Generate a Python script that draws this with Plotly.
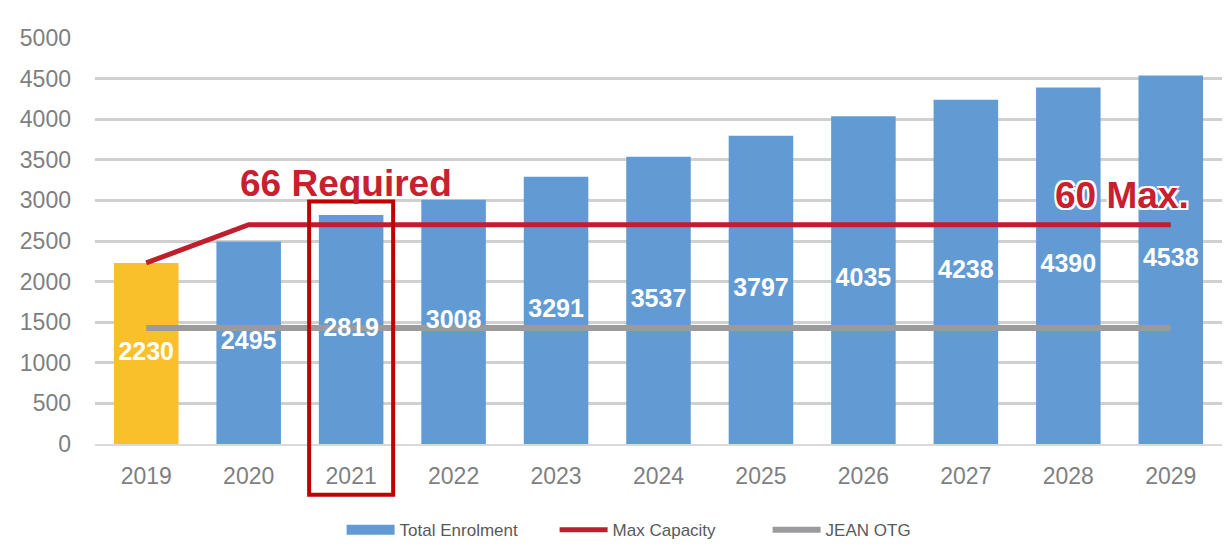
import plotly.graph_objects as go

years = ["2019", "2020", "2021", "2022", "2023", "2024", "2025", "2026", "2027", "2028", "2029"]
enrolment = [2230, 2495, 2819, 3008, 3291, 3537, 3797, 4035, 4238, 4390, 4538]
max_capacity = [2230, 2700, 2700, 2700, 2700, 2700, 2700, 2700, 2700, 2700, 2700]
jean_otg = [1430] * 11
y_ticks = [0, 500, 1000, 1500, 2000, 2500, 3000, 3500, 4000, 4500, 5000]
highlight_year = "2021"
highlight_top = 2985

BLUE = "#629BD3"
YELLOW = "#F9C02C"
RED = "#BE1E2D"
GREY = "#9B9B9D"
FONT = "Liberation Sans, Arial, sans-serif"

fig = go.Figure()
fig.add_trace(go.Bar(x=years[:1], y=enrolment[:1], marker=dict(color=YELLOW, line_width=0),
                     showlegend=False, hoverinfo="skip"))
fig.add_trace(go.Bar(x=years[1:], y=enrolment[1:], name="Total Enrolment",
                     marker=dict(color=BLUE, line_width=0), showlegend=False))
# legend-only swatch for the bars (wide rectangle like the reference)
fig.add_trace(go.Scatter(x=[years[0]], y=[None], mode="lines", name="Total Enrolment",
                         line=dict(color=BLUE, width=11), hoverinfo="skip"))
fig.add_trace(go.Scatter(x=years, y=max_capacity, mode="lines", name="Max Capacity",
                         line=dict(color=RED, width=5)))
fig.add_trace(go.Scatter(x=years, y=jean_otg, mode="lines", name="JEAN OTG",
                         line=dict(color=GREY, width=6)))
fig.add_trace(go.Scatter(x=years, y=[v / 2 for v in enrolment], mode="text",
                         text=[str(v) for v in enrolment], showlegend=False,
                         textfont=dict(family=FONT, size=25, color="white", weight="bold"),
                         hoverinfo="skip"))

n = len(years)
idx = years.index(highlight_year)
half = 0.41
fig.add_shape(type="rect", xref="x domain", yref="paper",
              x0=(idx + 0.5 - half) / n, x1=(idx + 0.5 + half) / n,
              y0=highlight_top / 5000, y1=-0.125,
              line=dict(color="#C00000", width=4), fillcolor="rgba(0,0,0,0)")

fig.add_annotation(x=idx - 0.05, y=3210, xref="x", yref="y", text="66 Required", showarrow=False,
                   font=dict(family=FONT, size=37, color="#C8202F", weight="bold"))
fig.add_annotation(x=9.52, y=3060, xref="x", yref="y", text="60 Max.", showarrow=False,
                   font=dict(family=FONT, size=37, color="#C8202F", weight="bold",
                             shadow="2px 2px 0 #fff, -2px -2px 0 #fff, 2px -2px 0 #fff, -2px 2px 0 #fff"))

# page body has an 8px margin: shrink the figure so the plot lands where the reference has it
fig.update_layout(
    width=1222, height=544,
    margin=dict(l=87, r=8, t=30, b=108),
    paper_bgcolor="white", plot_bgcolor="white",
    barmode="overlay", bargap=0.37,
    font=dict(family=FONT, color="#7F7F7F"),
    legend=dict(orientation="h", xref="container", yref="container",
                x=0.273, xanchor="left", y=0.04, yanchor="middle",
                font=dict(size=17, color="#595959"), traceorder="normal", itemwidth=48,
                entrywidth=150, entrywidthmode="pixels"),
    showlegend=True,
)
fig.update_xaxes(type="category", range=[-0.5, n - 0.5], showgrid=False,
                 showline=True, linecolor="#D9D9D9", linewidth=2,
                 tickfont=dict(size=23, color="#7F7F7F"), ticks="", ticklabelstandoff=10)
fig.update_yaxes(range=[0, 5000], tickvals=y_ticks, showgrid=True, gridcolor="#D0D0D0",
                 gridwidth=3, zeroline=False, showline=False,
                 tickfont=dict(size=23, color="#7F7F7F"), ticks="", ticklabelstandoff=23)

fig.write_html("out.html")
